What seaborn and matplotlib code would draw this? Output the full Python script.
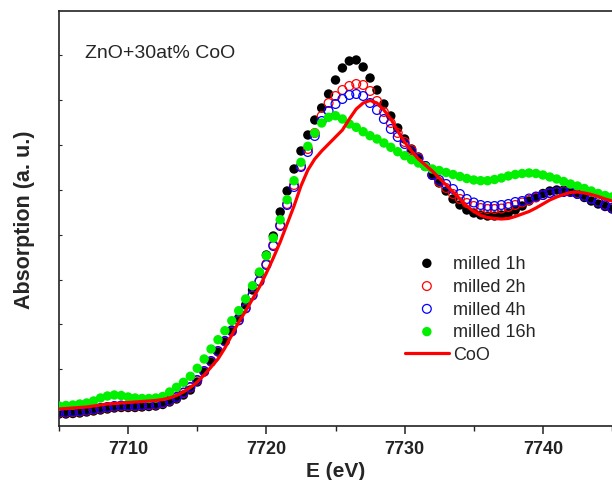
import numpy as np
import pandas as pd
import matplotlib
matplotlib.use("Agg")
import matplotlib.pyplot as plt
from matplotlib.ticker import MultipleLocator
import seaborn as sns

# photon energy grid (eV), 0.5 eV step as in the measured spectra
energy = np.arange(7705.0, 7745.01, 0.5)

milled_1h = [0.12, 0.12, 0.125, 0.13, 0.14, 0.15, 0.16, 0.17, 0.18, 0.185,
             0.185, 0.185, 0.19, 0.195, 0.20, 0.215, 0.24, 0.27, 0.31, 0.36,
             0.44, 0.54, 0.64, 0.74, 0.85, 0.96, 1.08, 1.21, 1.36, 1.53,
             1.71, 1.90, 2.14, 2.35, 2.57, 2.75, 2.91, 3.06, 3.18, 3.32,
             3.46, 3.58, 3.65, 3.66, 3.59, 3.48, 3.36, 3.22, 3.10, 2.98,
             2.87, 2.77, 2.69, 2.60, 2.51, 2.43, 2.35, 2.27, 2.21, 2.16,
             2.13, 2.11, 2.10, 2.10, 2.11, 2.13, 2.16, 2.20, 2.25, 2.29,
             2.325, 2.35, 2.36, 2.36, 2.345, 2.32, 2.285, 2.25, 2.22, 2.195,
             2.17]

milled_2h = [0.135, 0.135, 0.14, 0.145, 0.155, 0.165, 0.175, 0.185, 0.195, 0.20,
             0.20, 0.20, 0.205, 0.21, 0.215, 0.23, 0.255, 0.285, 0.33, 0.385,
             0.455, 0.545, 0.645, 0.745, 0.845, 0.945, 1.055, 1.175, 1.305, 1.445,
             1.62, 1.81, 2.01, 2.22, 2.41, 2.60, 2.77, 2.93, 3.10, 3.23,
             3.30, 3.36, 3.40, 3.42, 3.41, 3.35, 3.25, 3.14, 3.03, 2.93,
             2.84, 2.76, 2.68, 2.60, 2.51, 2.44, 2.38, 2.32, 2.27, 2.23,
             2.20, 2.18, 2.17, 2.17, 2.175, 2.19, 2.21, 2.235, 2.26, 2.285,
             2.31, 2.33, 2.34, 2.345, 2.34, 2.325, 2.30, 2.27, 2.24, 2.21,
             2.18]

milled_4h = [0.14, 0.14, 0.145, 0.15, 0.16, 0.17, 0.18, 0.19, 0.20, 0.205,
             0.205, 0.205, 0.21, 0.215, 0.22, 0.235, 0.26, 0.29, 0.335, 0.39,
             0.46, 0.55, 0.65, 0.75, 0.85, 0.95, 1.06, 1.18, 1.31, 1.45,
             1.61, 1.80, 2.00, 2.21, 2.39, 2.59, 2.74, 2.90, 3.05, 3.15,
             3.22, 3.27, 3.31, 3.32, 3.30, 3.23, 3.16, 3.07, 2.97, 2.89,
             2.82, 2.74, 2.67, 2.60, 2.51, 2.46, 2.42, 2.37, 2.32, 2.27,
             2.235, 2.21, 2.20, 2.20, 2.21, 2.22, 2.24, 2.25, 2.275, 2.295,
             2.31, 2.33, 2.34, 2.34, 2.34, 2.32, 2.30, 2.27, 2.24, 2.205,
             2.18]

milled_16h = [0.20, 0.205, 0.21, 0.22, 0.23, 0.25, 0.28, 0.30, 0.31, 0.305,
              0.29, 0.28, 0.275, 0.275, 0.28, 0.295, 0.34, 0.387, 0.437, 0.497,
              0.577, 0.67, 0.77, 0.863, 0.953, 1.053, 1.153, 1.27, 1.403, 1.54,
              1.703, 1.88, 2.063, 2.263, 2.453, 2.637, 2.797, 2.93, 3.03, 3.087,
              3.103, 3.07, 3.02, 2.987, 2.943, 2.903, 2.87, 2.83, 2.787, 2.743,
              2.703, 2.663, 2.63, 2.593, 2.57, 2.555, 2.535, 2.515, 2.495, 2.475,
              2.46, 2.453, 2.453, 2.465, 2.48, 2.50, 2.515, 2.525, 2.53, 2.525,
              2.51, 2.49, 2.47, 2.445, 2.42, 2.40, 2.375, 2.35, 2.325, 2.305,
              2.29]

coo_ref = [0.17, 0.175, 0.18, 0.185, 0.19, 0.20, 0.21, 0.22, 0.225, 0.23,
           0.235, 0.24, 0.245, 0.25, 0.255, 0.265, 0.28, 0.305, 0.34, 0.385,
           0.44, 0.51, 0.59, 0.67, 0.78, 0.91, 1.04, 1.15, 1.27, 1.39,
           1.53, 1.68, 1.84, 2.02, 2.20, 2.40, 2.56, 2.67, 2.75, 2.82,
           2.89, 2.96, 3.07, 3.17, 3.23, 3.255, 3.23, 3.16, 3.07, 2.95,
           2.84, 2.75, 2.67, 2.61, 2.55, 2.48, 2.41, 2.34, 2.27, 2.20,
           2.145, 2.105, 2.085, 2.075, 2.07, 2.075, 2.095, 2.12, 2.145, 2.18,
           2.22, 2.26, 2.29, 2.315, 2.335, 2.34, 2.33, 2.315, 2.295, 2.27,
           2.25]

df = pd.DataFrame({"E": energy, "1h": milled_1h, "2h": milled_2h,
                   "4h": milled_4h, "16h": milled_16h, "CoO": coo_ref})

sns.set_theme(style="ticks")
plt.rcParams["font.family"] = ["Liberation Sans", "DejaVu Sans"]

fig = plt.figure(figsize=(6.12, 4.81), dpi=100)
ax = fig.add_axes([59 / 612, 1 - 427 / 481, 1 - 59 / 612, (427 - 12) / 481])

dot = 46
ring = 40
sns.scatterplot(data=df, x="E", y="1h", ax=ax, s=dot, color="black",
                edgecolor="none", linewidth=0, label="milled 1h", zorder=2)
sns.scatterplot(data=df, x="E", y="2h", ax=ax, s=ring, facecolor="none",
                edgecolor="#ff0000", linewidth=0.9, label="milled 2h", zorder=3)
sns.scatterplot(data=df, x="E", y="4h", ax=ax, s=ring, facecolor="none",
                edgecolor="#0000ff", linewidth=0.9, label="milled 4h", zorder=4)
sns.scatterplot(data=df, x="E", y="16h", ax=ax, s=dot, color="#00f000",
                edgecolor="none", linewidth=0, label="milled 16h", zorder=5)
sns.lineplot(data=df, x="E", y="CoO", ax=ax, color="#ff0000", linewidth=2.3,
             label="CoO", zorder=6)

ax.set_xlim(7705, 7745)
ax.set_ylim(0, 4.15)
ax.xaxis.set_major_locator(MultipleLocator(10))
ax.xaxis.set_minor_locator(MultipleLocator(5))
ax.set_yticks(np.arange(0.118, 3.8, 0.449))
ax.set_yticklabels([])

ax.spines["right"].set_visible(False)
for s in ["left", "top", "bottom"]:
    ax.spines[s].set_linewidth(1.2)
    ax.spines[s].set_color("#222222")

ax.tick_params(axis="x", which="major", direction="out", length=6, width=1.1,
               labelsize=13, pad=4, colors="#222222")
ax.tick_params(axis="x", which="minor", direction="out", length=3.5, width=1.0,
               colors="#222222")
ax.tick_params(axis="y", which="major", direction="in", length=2.5, width=0.8,
               left=True, right=False)
for lab in ax.get_xticklabels():
    lab.set_fontweight("bold")

ax.set_xlabel("E (eV)", fontsize=15, fontweight="bold", labelpad=3)
ax.set_ylabel("Absorption (a. u.)", fontsize=15.5, fontweight="bold", labelpad=14)

ax.text(0.047, 0.901, "ZnO+30at% CoO", transform=ax.transAxes,
        fontsize=14, va="center", ha="left")

ax.legend(loc="upper left", bbox_to_anchor=(0.626, 0.412), frameon=False,
          fontsize=13, borderpad=0, borderaxespad=0, handlelength=2.4,
          handletextpad=0.25, labelspacing=0.32, markerscale=1.0)

fig.savefig("out.png", dpi=100)
